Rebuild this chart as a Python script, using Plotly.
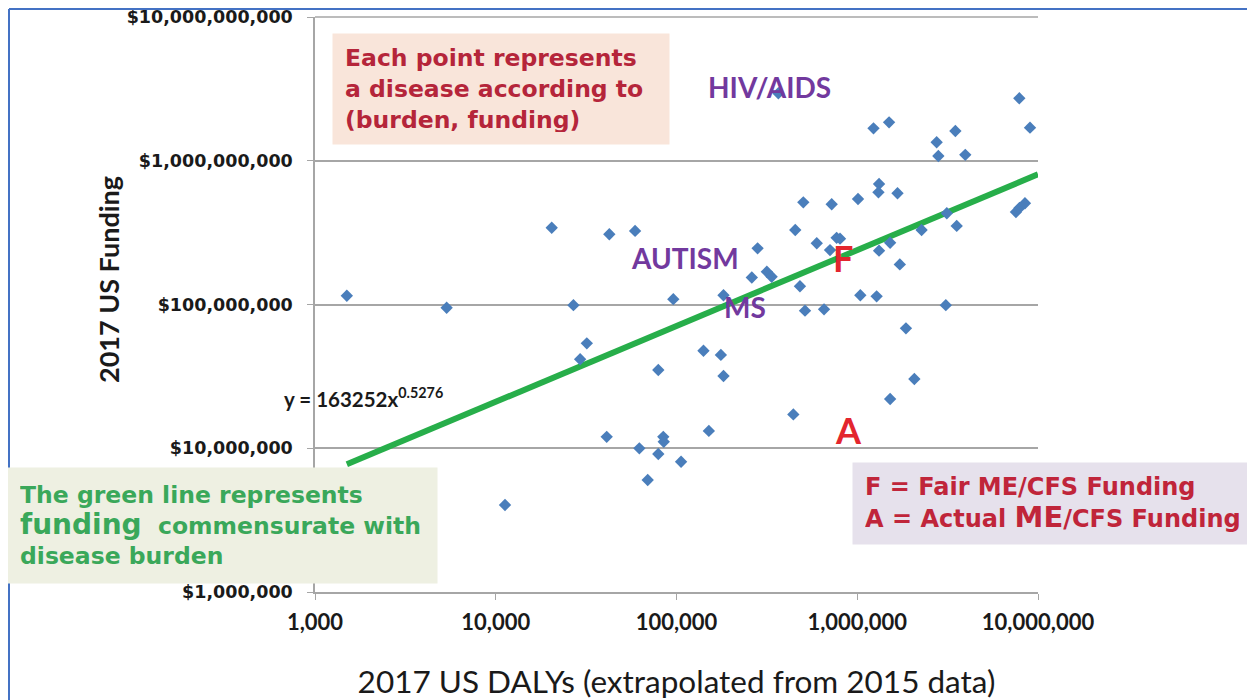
import plotly.graph_objects as go
import math

# ---- data ----
dalys = [1500, 5350, 20400, 42500, 59000, 26900, 96000,
         366000, 7.88e6, 9.03e6,
         1.23e6, 1.50e6, 2.75e6, 3.49e6, 2.81e6, 3.96e6,
         1.32e6, 1.31e6, 1.67e6,
         503000, 722000, 1.01e6,
         7.55e6, 7.9e6, 8.47e6,
         454000, 769000, 803000, 597000, 707000,
         3.13e6, 3.55e6, 2.27e6,
         1.52e6, 1.32e6, 1.72e6,
         281000, 261000, 316000, 336000, 482000,
         1.04e6, 1.28e6, 182000, 3.09e6,
         514000, 655000,
         31900, 29300, 79300,
         41100, 62300, 84500, 85000, 79300, 106000, 69300, 11250,
         1.86e6, 141000, 176000, 182000, 2.07e6, 1.52e6, 443000, 151000]
funding = [115e6, 95e6, 342e6, 308e6, 325e6, 99e6, 109e6,
           2.95e9, 2.72e9, 1.70e9,
           1.68e9, 1.85e9, 1.345e9, 1.61e9, 1.08e9, 1.10e9,
           689e6, 603e6, 594e6,
           514e6, 498e6, 542e6,
           440e6, 470e6, 506e6,
           330e6, 291e6, 287e6, 267e6, 239e6,
           431e6, 352e6, 330e6,
           269e6, 237e6, 190e6,
           246e6, 154e6, 169e6, 156e6, 134e6,
           116e6, 114e6, 116e6, 99e6,
           90.6e6, 92.6e6,
           53.7e6, 41.6e6, 35e6,
           12.0e6, 9.99e6, 12.0e6, 11.1e6, 9.12e6, 8.06e6, 6.01e6, 4.03e6,
           68.3e6, 47.7e6, 44.6e6, 31.8e6, 30.3e6, 22.0e6, 17.2e6, 13.2e6]

# power-law trend shown on the chart: y = 163252 x^0.5276
trend_coef = 163252
trend_exp = 0.5276
trend_x = [1500, 1e7]
trend_y = [trend_coef * v ** trend_exp for v in trend_x]

x_tickvals = [1e3, 1e4, 1e5, 1e6, 1e7]
x_ticktext = ["1,000", "10,000", "100,000", "1,000,000", "10,000,000"]
y_tickvals = [1e6, 1e7, 1e8, 1e9, 1e10]
y_ticktext = ["$1,000,000", "$10,000,000", "$100,000,000", "$1,000,000,000", "$10,000,000,000"]

# disease labels (x, y in data units)
labels = [("HIV/AIDS", 329000, 3.26e9), ("AUTISM", 111000, 2.11e8), ("MS", 239000, 9.6e7)]
me_points = [("F", 834000, 2.11e8), ("A", 889000, 1.34e7)]

# page has an 8px body margin; figure sized to fit the 1255x700 window
OX, OY = 8, 8
W, H = 1247, 692
L, R, T, B = 315, 1038, 17, 592          # plot area in page pixels
pw, ph = R - L, B - T


def px(xp):
    return (xp - L) / pw


def py(yp):
    return (B - yp) / ph


fig = go.Figure()
fig.add_trace(go.Scatter(x=trend_x, y=trend_y, mode="lines",
                         line=dict(color="#27ae4a", width=6), hoverinfo="skip",
                         showlegend=False))
fig.add_trace(go.Scatter(x=dalys, y=funding, mode="markers",
                         marker=dict(symbol="diamond", size=9.5, color="#4a7ebb"),
                         showlegend=False))

ann = []
purple = "#72399e"
for t, xv, yv in labels:
    ann.append(dict(x=math.log10(xv), y=math.log10(yv), xref="x", yref="y", text="<b>%s</b>" % t,
                    showarrow=False, font=dict(family="Lato", size=28, color=purple)))
for t, xv, yv in me_points:
    ann.append(dict(x=math.log10(xv), y=math.log10(yv), xref="x", yref="y", text="<b>%s</b>" % t,
                    showarrow=False, font=dict(family="Lato", size=36, color="#e3262e")))

ann.append(dict(x=px(282), y=py(397), xref="paper", yref="paper", xanchor="left", yanchor="middle",
                text="<b>y = 163252x<sup>0.5276</sup></b>", showarrow=False,
                font=dict(family="Lato", size=20.5, color="#1a1a1a")))

# y-axis title
ann.append(dict(x=px(108), y=py(280), xref="paper", yref="paper", xanchor="center", yanchor="middle",
                text="<b>2017 US Funding</b>", textangle=-90, showarrow=False,
                font=dict(family="Lato", size=27, color="#1a1a1a")))

box_font = "DejaVu Sans"
red = "#b5253a"
ann.append(dict(x=px(332), y=py(33), xref="paper", yref="paper", xanchor="left", yanchor="top",
                text="<b>Each point represents<br>a disease according to<br>(burden, funding)</b>",
                showarrow=False, align="left", valign="middle", width=312, height=86, borderpad=12,
                bgcolor="#f9e5da", font=dict(family=box_font, size=23.5, color=red)))
green = "#3aa85a"
ann.append(dict(x=px(6), y=py(467), xref="paper", yref="paper", xanchor="left", yanchor="top",
                text="<b>The green line represents<br><span style='font-size:28px'>funding</span>  commensurate with<br>disease burden</b>",
                showarrow=False, align="left", valign="middle", width=404, height=89, borderpad=13,
                bgcolor="#eef0e2", font=dict(family=box_font, size=23.5, color=green)))
ann.append(dict(x=px(852), y=py(462), xref="paper", yref="paper", xanchor="left", yanchor="top",
                text="<b>F = Fair ME/CFS Funding<br>A = Actual <span style='font-size:29px'>ME</span>/CFS Funding</b>",
                showarrow=False, align="left", valign="middle", width=374, height=57, borderpad=12,
                bgcolor="#e6e1ec", font=dict(family=box_font, size=24, color="#c0253a")))

grid = "#a6a6a6"
shapes = [
    dict(type="line", xref="paper", yref="paper", x0=px(9), x1=px(1260), y0=py(9), y1=py(9),
         line=dict(color="#4472c4", width=2)),
    dict(type="line", xref="paper", yref="paper", x0=px(9), x1=px(9), y0=py(9), y1=py(705),
         line=dict(color="#4472c4", width=2)),
    dict(type="line", xref="paper", yref="paper", x0=0, x1=1, y0=1, y1=1,
         line=dict(color=grid, width=1.5), layer="below"),
]

fig.update_layout(
    width=W, height=H,
    margin=dict(l=L - OX, r=W - (R - OX), t=T - OY, b=H - (B - OY), autoexpand=False),
    paper_bgcolor="white", plot_bgcolor="white",
    showlegend=False,
    annotations=ann, shapes=shapes,
    xaxis=dict(type="log", range=[3, 7], tickvals=x_tickvals, ticktext=x_ticktext,
               showgrid=False, zeroline=False, showline=True, linecolor=grid, linewidth=1.5,
               ticks="outside", ticklen=6, tickcolor=grid, ticklabelstandoff=4,
               tickfont=dict(family="Lato", size=22, color="#1a1a1a", weight="bold"),
               title=dict(text="2017 US DALYs (extrapolated from 2015 data)", standoff=40,
                          font=dict(family="Lato", size=31.5, color="#1a1a1a"))),
    yaxis=dict(type="log", range=[6, 10.0001], tickvals=y_tickvals, ticktext=y_ticktext,
               showgrid=True, gridcolor=grid, gridwidth=1.5, zeroline=False,
               showline=True, linecolor=grid, linewidth=1.5, ticklabeloverflow="allow",
               ticks="outside", ticklen=6, tickcolor=grid, ticklabelstandoff=11,
               tickfont=dict(family="DejaVu Sans", size=17.5, color="#1a1a1a", weight="bold")),
)

fig.write_html("out.html")
